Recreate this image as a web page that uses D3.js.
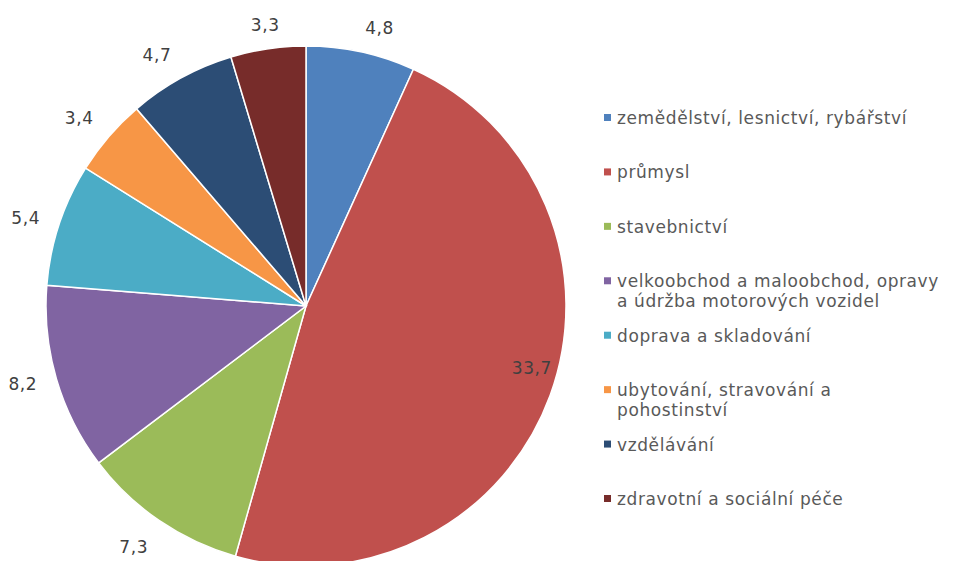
<!DOCTYPE html>
<html>
<head>
<meta charset="utf-8">
<script src="https://cdn.jsdelivr.net/npm/d3@7"></script>
<style>
  body { margin: 0; background: #fff; overflow: hidden; }
  svg { display: block; }
  svg text { font-family: "DejaVu Sans", Verdana, sans-serif; letter-spacing: 0.6px; }
</style>
</head>
<body>
<main></main>
<script>
const categories = [
  "zemědělství, lesnictví, rybářství",
  "průmysl",
  "stavebnictví",
  "velkoobchod a maloobchod, opravy\na údržba motorových vozidel",
  "doprava a skladování",
  "ubytování, stravování a\npohostinství",
  "vzdělávání",
  "zdravotní a sociální péče"
];
const values = [4.8, 33.7, 7.3, 8.2, 5.4, 3.4, 4.7, 3.3];
const colors = ["#4F81BD", "#C0504D", "#9BBB59", "#8064A2", "#4BACC6", "#F79646", "#2C4D75", "#772C2A"];

const w = 954, h = 561,
  cx = 306, cy = 306, r = 260;

const data = categories.map((c, i) => ({name: c, value: values[i], color: colors[i]}));
const fmt = v => String(v).replace(".", ",");

const svg = d3.select("main").append("svg")
  .attr("width", w)
  .attr("height", h);

const pie = d3.pie().sort(null).value(d => d.value);
const arc = d3.arc().innerRadius(0).outerRadius(r);
const arcs = pie(data);

const g = svg.append("g").attr("transform", "translate(" + cx + "," + cy + ")");

g.selectAll("path")
  .data(arcs)
  .enter()
  .append("path")
  .attr("d", arc)
  .attr("fill", d => d.data.color)
  .attr("stroke", "#fff")
  .attr("stroke-width", 1.5);

// data labels, outside end except the big slice
g.selectAll("text.lbl")
  .data(arcs)
  .enter()
  .append("text")
  .attr("class", "lbl")
  .attr("font-size", 17)
  .attr("fill", "#404040")
  .attr("dy", "0.35em")
  .each(function(d) {
    const a = (d.startAngle + d.endAngle) / 2;
    const s = Math.sin(a), c = Math.cos(a);
    const big = d.data.value > 20;
    const R = big ? r - 28 : r + 20;
    let x = R * s, y = -R * c;
    let anchor = "middle";
    if (!big) {
      if (s > 0.15) anchor = "start";
      else if (s < -0.3) anchor = "end";
      if (c < -0.5) y += 10;
      else if (c > 0.5 && Math.abs(s) > 0.3) y -= 5;
      else if (c > 0.9) y -= 4;
    } else {
      x += 8;
      y -= 18;
    }
    d3.select(this)
      .attr("x", x)
      .attr("y", y)
      .attr("text-anchor", anchor)
      .text(fmt(d.data.value));
  });

// legend
const ly = d3.scalePoint()
  .domain(categories)
  .range([118, 499]);

const leg = svg.append("g").attr("class", "legend");
const items = leg.selectAll("g")
  .data(data)
  .enter()
  .append("g")
  .attr("transform", d => "translate(605," + ly(d.name) + ")");

items.append("rect")
  .attr("x", -1)
  .attr("y", -4)
  .attr("width", 7)
  .attr("height", 7)
  .attr("fill", d => d.color);

items.append("text")
  .attr("font-size", 17)
  .attr("fill", "#595959")
  .each(function(d) {
    const lines = d.name.split("\n");
    d3.select(this).selectAll("tspan")
      .data(lines)
      .enter()
      .append("tspan")
      .attr("x", 12)
      .attr("y", (l, i) => i * 20)
      .attr("dy", "0.35em")
      .text(l => l);
  });
</script>
</body>
</html>
